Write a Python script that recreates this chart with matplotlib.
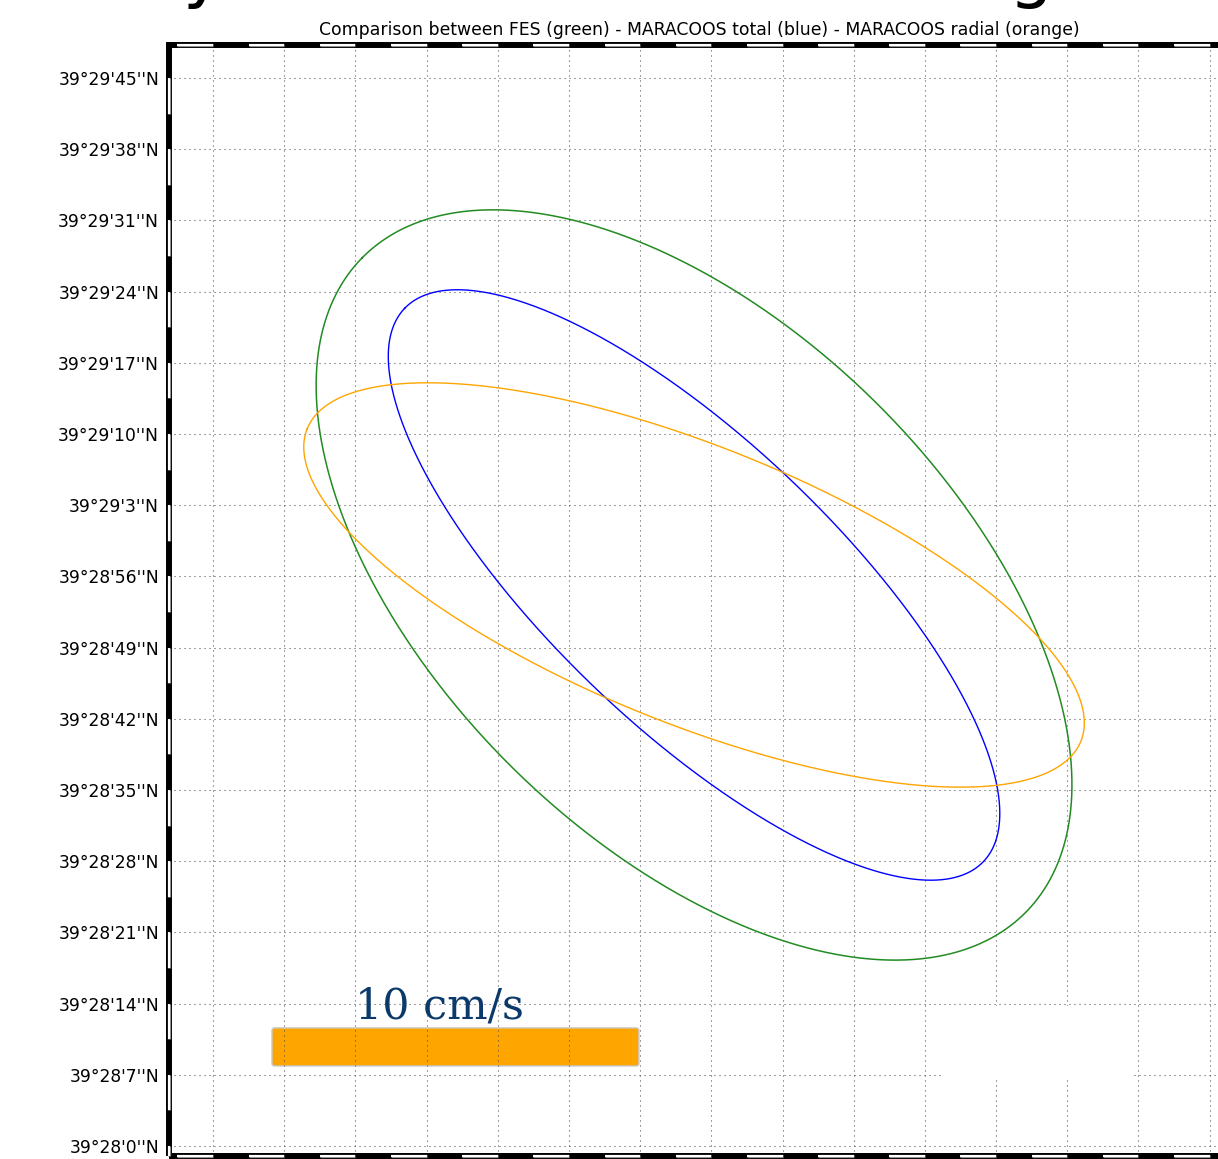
import numpy as np
import matplotlib
matplotlib.use("Agg")
import matplotlib.pyplot as plt
from matplotlib.patches import FancyBboxPatch, Rectangle

# Grid positions in arc-seconds north of 39°28'00"N / east of the western meridian
LAT_DEG, LAT_MIN0 = 39, 28
lat_grid_sec = list(range(0, 106, 7))
lon_grid_sec = list(range(0, 99, 7))

# Tidal current ellipses at the site: semi-axes (cm/s), inclination (deg CCW from east)
models = ["FES", "MARACOOS total", "MARACOOS radial"]
semi_major = [12.70, 10.91, 11.37]
semi_minor = [7.02, 3.89, 3.77]
inclination = [135.4, 136.3, 158.0]
line_colors = ["forestgreen", "blue", "orange"]
line_widths = [1.1, 1.0, 1.0]

site_east_sec = 47.3
site_north_sec = 55.16

scale_speed = 10           # cm/s shown by the reference bar
sec_per_cms = 36.08 / 10   # map arc-seconds drawn per cm/s

fig = plt.figure(figsize=(12.18, 11.59), dpi=100, facecolor="white")
ax = fig.add_axes([169 / 1218, 3 / 1159, 1061 / 1218, 1111 / 1159])
x0, x1 = -4.326, 100.0
y0, y1 = -0.983, 108.25
ax.set_xlim(x0, x1)
ax.set_ylim(y0, y1)
for sp in ax.spines.values():
    sp.set_visible(False)


def dms_label(sec_from_ref):
    total = LAT_MIN0 * 60 + sec_from_ref
    return f"{LAT_DEG}°{total // 60}'{total % 60}''N"


ax.set_xticks([])
ax.set_yticks(lat_grid_sec, [dms_label(s) for s in lat_grid_sec])
ax.tick_params(axis="y", length=0, pad=7.2, labelsize=12.3)

# dotted graticule
gkw = dict(color="0.3", lw=0.75, linestyle=(0, (1, 3.8)), zorder=2)
for gx in lon_grid_sec:
    ax.plot([gx, gx], [y0, y1], **gkw)
for gy in lat_grid_sec:
    ax.plot([x0, x1], [gy, gy], **gkw)

# blank label area over the lower-right grid
ax.add_patch(Rectangle((71.67, 6.59), 18.68, 7.17, fc="white", ec="none", zorder=2.5))

# ellipses
t = np.linspace(0, 2 * np.pi, 1441)
for a, b, inc, c, lw in zip(semi_major, semi_minor, inclination, line_colors, line_widths):
    th = np.deg2rad(inc)
    u, v = a * np.cos(t), b * np.sin(t)
    ex = (u * np.cos(th) - v * np.sin(th)) * sec_per_cms + site_east_sec
    ey = (u * np.sin(th) + v * np.cos(th)) * sec_per_cms + site_north_sec
    ax.plot(ex, ey, color=c, lw=lw, zorder=3)

# speed scale bar
bar = FancyBboxPatch((5.80, 7.87), scale_speed * sec_per_cms, 3.74,
                     boxstyle="round,pad=0,rounding_size=0.25",
                     fc="orange", ec="#c8c8c8", lw=1.0, zorder=1)
ax.add_patch(bar)
ax.text(22.32, 12.49, f"{scale_speed} cm/s", family="DejaVu Serif", fontsize=30.8,
        color="#0b3a6a", ha="center", va="baseline", zorder=4)

# black/white checkered map frame
fkw = dict(clip_on=False, solid_capstyle="butt", zorder=10)
ax.plot([x0, x1, x1, x0, x0], [y0, y0, y1, y1, y0], color="k", lw=4.3,
        solid_joinstyle="miter", **fkw)


def white_segments(lo, hi):
    segs = []
    for g in range(-7, 120, 7):
        s0, s1 = max(g - 3.5, lo), min(g, hi)
        if s1 > s0:
            segs.append((s0, s1))
    return segs


for s0, s1 in white_segments(x0, x1):
    for yy in (y0, y1):
        ax.plot([s0, s1], [yy, yy], color="0.55", lw=2.3, **fkw)
        ax.plot([s0, s1], [yy, yy], color="white", lw=1.5, **fkw)
for s0, s1 in white_segments(y0, y1):
    for xx in (x0, x1):
        ax.plot([xx, xx], [s0, s1], color="0.55", lw=2.3, **fkw)
        ax.plot([xx, xx], [s0, s1], color="white", lw=1.5, **fkw)

ax.set_title("Comparison between FES (green) - MARACOOS total (blue) - MARACOOS radial (orange)",
             fontsize=12.45, pad=7)

# descenders of the heading line above
fig.text(203 / 1218, 1 + 5 / 1159, "y", fontsize=50, ha="center", va="baseline")
fig.text(1030 / 1218, 1 + 5 / 1159, "g", fontsize=50, ha="center", va="baseline")

fig.savefig("out.png", dpi=100, facecolor="white")
